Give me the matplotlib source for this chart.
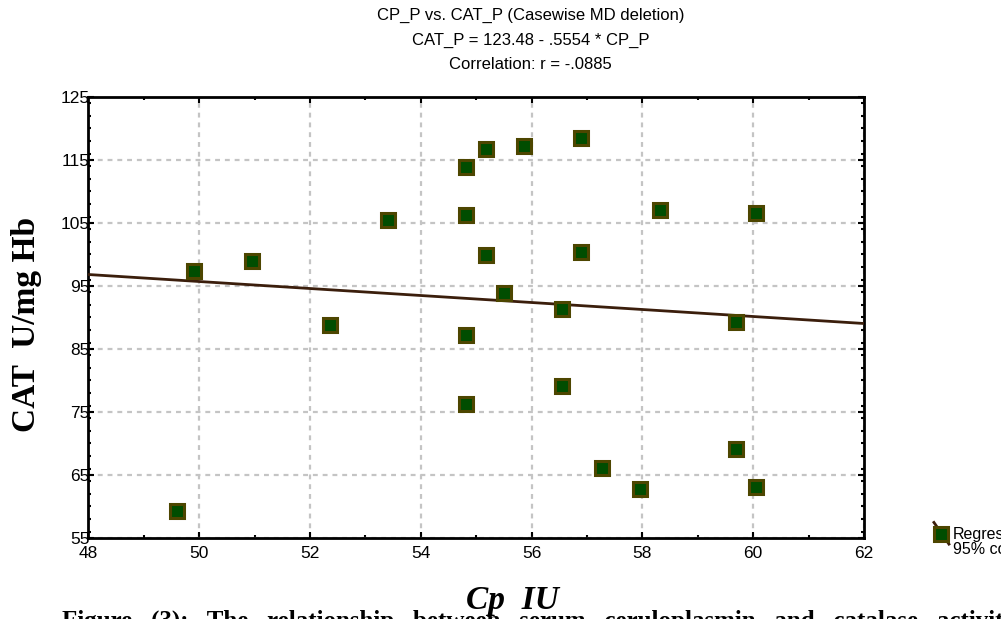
import numpy as np
import matplotlib.pyplot as plt
from matplotlib.lines import Line2D
from matplotlib.ticker import MultipleLocator

# values
cp = [55.18, 55.86, 56.90, 54.81, 54.81, 58.32, 55.18, 56.90, 55.50, 49.90,
      50.95, 52.36, 54.81, 56.55, 56.55, 54.81, 59.69, 59.69, 57.27, 57.96,
      60.05, 60.05, 49.60, 53.40]
cat = [116.7, 117.2, 118.5, 113.9, 106.3, 107.1, 99.9, 100.4, 93.9, 97.4,
       99.0, 88.8, 87.2, 91.3, 79.1, 76.3, 89.3, 69.1, 66.1, 62.8,
       63.1, 106.6, 59.3, 105.5]
intercept = 123.48
slope = -0.5554
x_ticks = [48, 50, 52, 54, 56, 58, 60, 62]
y_ticks = [55, 65, 75, 85, 95, 105, 115, 125]

title_lines = ["CP_P vs. CAT_P (Casewise MD deletion)",
               "CAT_P = 123.48 - .5554 * CP_P",
               "Correlation: r = -.0885"]

sans = ['Liberation Sans Narrow', 'Liberation Sans', 'DejaVu Sans']
serif = ['Liberation Serif', 'DejaVu Serif']
plt.rcParams['font.family'] = sans

fig = plt.figure(figsize=(10.01, 6.19), dpi=100)
ax = fig.add_axes([0.0884, 0.1309, 0.7747, 0.7124])

ax.set_xlim(48, 62)
ax.set_ylim(55, 125)
ax.set_xticks(x_ticks)
ax.set_yticks(y_ticks)
ax.xaxis.set_minor_locator(MultipleLocator(1))
ax.yaxis.set_minor_locator(MultipleLocator(2))
ax.tick_params(which='both', direction='in', top=True, right=True, width=1.5,
               labelsize=12.5)
ax.tick_params(which='major', length=4)
ax.tick_params(which='minor', length=2.5)
ax.tick_params(axis='y', pad=-1)
ax.tick_params(axis='x', pad=6)
for s in ax.spines.values():
    s.set_linewidth(2)

ax.grid(True, which='major', color='#c4c4c4', linestyle=(0, (2.2, 2.2)), linewidth=1.6)
ax.set_axisbelow(True)

xs = np.array([48, 62])
ax.plot(xs, intercept + slope * xs, color='#3b1e0c', linewidth=2, zorder=3)
ax.plot(cp, cat, linestyle='none', marker='s', markersize=9.5,
        markerfacecolor='#004d00', markeredgecolor='#4d4600',
        markeredgewidth=2.2, zorder=4)

for i, t in enumerate(title_lines):
    fig.text(0.530, 0.975 - i * 0.040, t, ha='center', va='center', fontsize=12)

fig.text(0.026, 0.476, 'CAT  U/mg Hb', rotation=90, ha='center', va='center',
         family=serif, fontweight='bold', fontsize=24)
fig.text(0.512, 0.030, 'Cp  IU', ha='center', va='center', family=serif,
         fontweight='bold', fontstyle='italic', fontsize=24)
fig.text(0.062, -0.004, 'Figure   (3):   The   relationship   between   serum   ceruloplasmin   and   catalase   activity   and   total',
         ha='left', va='center', family=serif, fontweight='bold', fontsize=18)

# legend glyph at the lower right
fig.add_artist(Line2D([0.933, 0.948], [0.156, 0.121], transform=fig.transFigure,
                      color='#3b1e0c', linewidth=2))
fig.add_artist(Line2D([0.940], [0.137], transform=fig.transFigure, marker='s',
                      markersize=9.5, markerfacecolor='#004d00',
                      markeredgecolor='#4d4600', markeredgewidth=2.2))
fig.text(0.952, 0.124, 'Regression\n95% confid.', ha='left', va='center',
         fontsize=11.5, linespacing=1.0)

fig.savefig('out.png', dpi=100)
